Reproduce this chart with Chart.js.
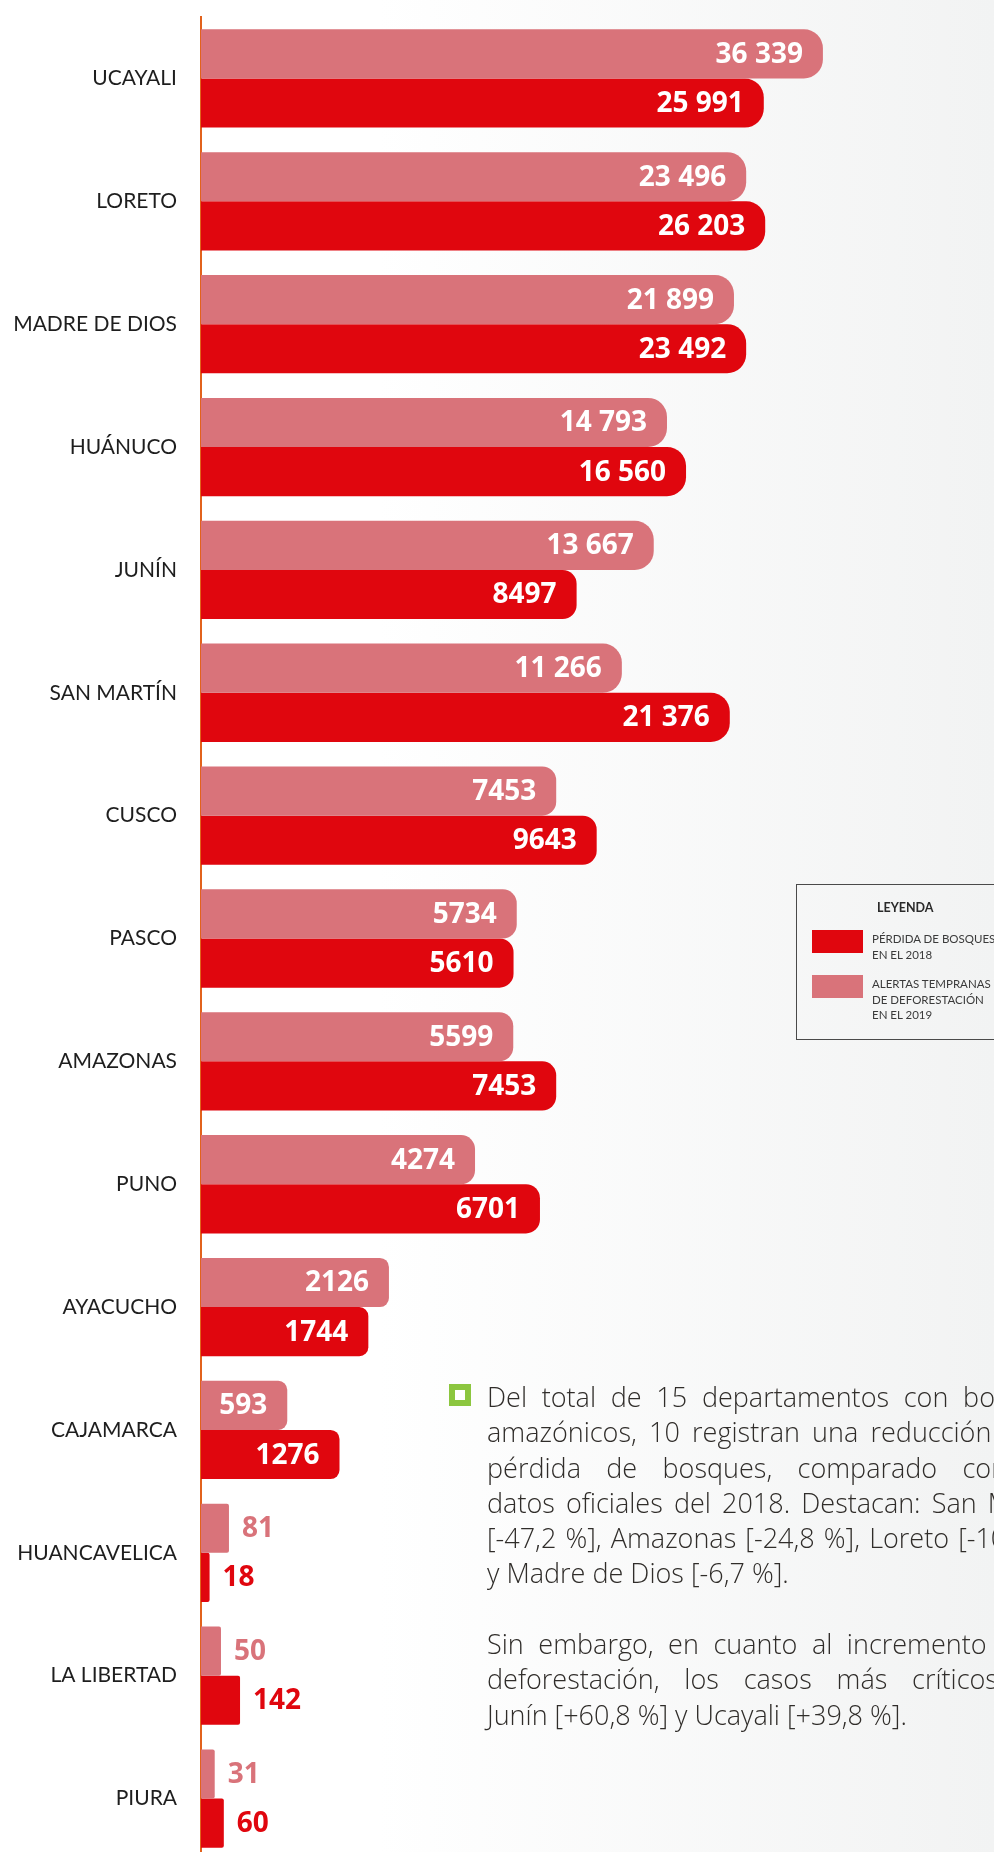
<!DOCTYPE html>
<html lang="es">
<head>
<meta charset="utf-8">
<title>Pérdida de bosques y alertas tempranas</title>
<script src="https://cdn.jsdelivr.net/npm/chart.js@4.4.1/dist/chart.umd.min.js"></script>
<style>
  html, body { margin: 0; padding: 0; }
  body {
    width: 994px; height: 1852px; overflow: hidden; position: relative;
    background: linear-gradient(90deg, #ffffff 0%, #ffffff 38%, #f2f3f3 100%);
    font-family: "Lato", "Open Sans", sans-serif;
  }
  #wrap { position: absolute; left: 0; top: 0; width: 840px; height: 1860px; }
  .legend {
    position: absolute; left: 796px; top: 884px; width: 230px; height: 154px;
    border: 1.5px solid #4a4a4a; color: #3a3a3a; font-size: 11.5px; line-height: 15.7px;
  }
  .legend .ttl { position: absolute; left: 80px; top: 15px; font-weight: 700; color: #2a2a2a; font-size: 12.5px; }
  .legend .sw { position: absolute; left: 15px; width: 51px; height: 23px; }
  .legend .tx { position: absolute; left: 75px; width: 160px; }
  .note {
    position: absolute; left: 487px; top: 1379px; width: 580px;
    font-family: "Open Sans", "Lato", sans-serif;
    font-size: 27px; font-weight: 300; line-height: 35.3px; color: #302d2a;
  }
  .note .ln { white-space: nowrap; text-align: justify; text-align-last: justify; }
  .note .last { text-align: left; text-align-last: left; }
  .note .gap { height: 35.3px; }
  .bullet {
    position: absolute; left: 449px; top: 1384px; width: 10px; height: 10px;
    border: 6px solid #8cc63f; background: #fff;
  }
</style>
</head>
<body>
<div id="wrap"><canvas id="chart" width="840" height="1860"></canvas></div>

<div class="legend">
  <div class="ttl">LEYENDA</div>
  <div class="sw" style="top:45px;background:#e0060e"></div>
  <div class="tx" style="top:46px">PÉRDIDA DE BOSQUES<br>EN EL 2018</div>
  <div class="sw" style="top:90px;background:#d9737a"></div>
  <div class="tx" style="top:91px">ALERTAS TEMPRANAS<br>DE DEFORESTACIÓN<br>EN EL 2019</div>
</div>

<div class="bullet"></div>
<div class="note">
  <div class="ln">Del total de 15 departamentos con bosques</div>
  <div class="ln">amazónicos, 10 registran una reducción en la</div>
  <div class="ln">pérdida de bosques, comparado con los</div>
  <div class="ln">datos oficiales del 2018. Destacan: San Martín</div>
  <div class="ln">[-47,2 %], Amazonas [-24,8 %], Loreto [-10,3 %]</div>
  <div class="ln last">y Madre de Dios [-6,7 %].</div>
  <div class="gap"></div>
  <div class="ln">Sin embargo, en cuanto al incremento de la</div>
  <div class="ln">deforestación, los casos más críticos son</div>
  <div class="ln last">Junín [+60,8 %] y Ucayali [+39,8 %].</div>
</div>

<script>
// departamentos, de arriba hacia abajo
const departamentos = ['UCAYALI', 'LORETO', 'MADRE DE DIOS', 'HUÁNUCO', 'JUNÍN', 'SAN MARTÍN', 'CUSCO',
  'PASCO', 'AMAZONAS', 'PUNO', 'AYACUCHO', 'CAJAMARCA', 'HUANCAVELICA', 'LA LIBERTAD', 'PIURA'];
// alertas tempranas de deforestación 2019 (ha)
const alertas2019 = [36339, 23496, 21899, 14793, 13667, 11266, 7453, 5734, 5599, 4274, 2126, 593, 81, 50, 31];
// pérdida de bosques 2018 (ha)
const perdida2018 = [25991, 26203, 23492, 16560, 8497, 21376, 9643, 5610, 7453, 6701, 1744, 1276, 18, 142, 60];

const ROSA = '#d9737a';
const ROJO = '#e0060e';

// the infographic does not draw bars to a linear scale: it compresses them roughly
// logarithmically, with a little extra room for the tiny values
const warp = v => (v <= 0 ? 0 : Math.log(1 + v / 1500) + 0.133 * (1 - Math.exp(-v / 60)));
function unwarp(t) {
  let lo = 0, hi = 1e7;
  for (let i = 0; i < 60; i++) {
    const mid = (lo + hi) / 2;
    if (warp(mid) < t) lo = mid; else hi = mid;
  }
  return (lo + hi) / 2;
}

const Linear = Chart.LinearScale || Chart.registry.getScale('linear');
class CompressedScale extends Linear {
  getPixelForValue(value) {
    if (value === null || value === undefined || isNaN(value)) return NaN;
    return this.getPixelForDecimal(warp(value) / warp(this.max));
  }
  getValueForPixel(pixel) {
    return unwarp(this.getDecimalForPixel(pixel) * warp(this.max));
  }
}
CompressedScale.id = 'compressed';
CompressedScale.defaults = Linear.defaults;
Chart.register(CompressedScale);

function fmt(v) {
  const s = String(v);
  return v >= 10000 ? s.replace(/\B(?=(\d{3})+(?!\d))/g, ' ') : s;
}

function radius(ctx) {
  const v = ctx.raw;
  if (v > 10000) return 19;
  if (v > 3000) return 14;
  if (v > 400) return 9;
  return 2;
}

const valueLabels = {
  id: 'valueLabels',
  afterDatasetsDraw(chart) {
    const ctx = chart.ctx;
    ctx.save();
    ctx.font = '700 28px "Open Sans", sans-serif';
    ctx.textBaseline = 'middle';
    chart.data.datasets.forEach((ds, di) => {
      chart.getDatasetMeta(di).data.forEach((bar, i) => {
        const txt = fmt(ds.data[i]);
        const w = ctx.measureText(txt).width;
        const len = bar.x - bar.base;
        if (len > w + 30) {
          ctx.fillStyle = '#ffffff';
          ctx.textAlign = 'right';
          ctx.fillText(txt, bar.x - 20, bar.y + 1);
        } else {
          ctx.fillStyle = ds.backgroundColor;
          ctx.textAlign = 'left';
          ctx.fillText(txt, bar.x + 13, bar.y + 1);
        }
      });
    });
    ctx.restore();
  }
};

new Chart(document.getElementById('chart'), {
  type: 'bar',
  data: {
    labels: departamentos,
    datasets: [
      { label: 'Alertas tempranas de deforestación en el 2019', data: alertas2019, backgroundColor: ROSA },
      { label: 'Pérdida de bosques en el 2018', data: perdida2018, backgroundColor: ROJO }
    ]
  },
  options: {
    indexAxis: 'y',
    responsive: false,
    devicePixelRatio: 1,
    animation: false,
    categoryPercentage: 0.8,
    barPercentage: 1.0,
    layout: { padding: { top: 17, right: 0, bottom: 0, left: 0 } },
    datasets: { bar: { borderRadius: radius, borderSkipped: 'start' } },
    plugins: { legend: { display: false }, tooltip: { enabled: false } },
    scales: {
      x: { type: 'compressed', min: 0, max: 40000, display: false },
      y: {
        afterFit: s => { s.width = 201; s.paddingTop = 0; s.paddingBottom = 0; },
        grid: { display: false, drawTicks: false },
        border: { display: true, color: '#e2621c', width: 2 },
        ticks: {
          padding: 24,
          color: '#1e1e1e',
          crossAlign: 'near',
          font: { family: 'Lato', size: 21, weight: '400' }
        }
      }
    }
  },
  plugins: [valueLabels]
});
</script>
</body>
</html>
